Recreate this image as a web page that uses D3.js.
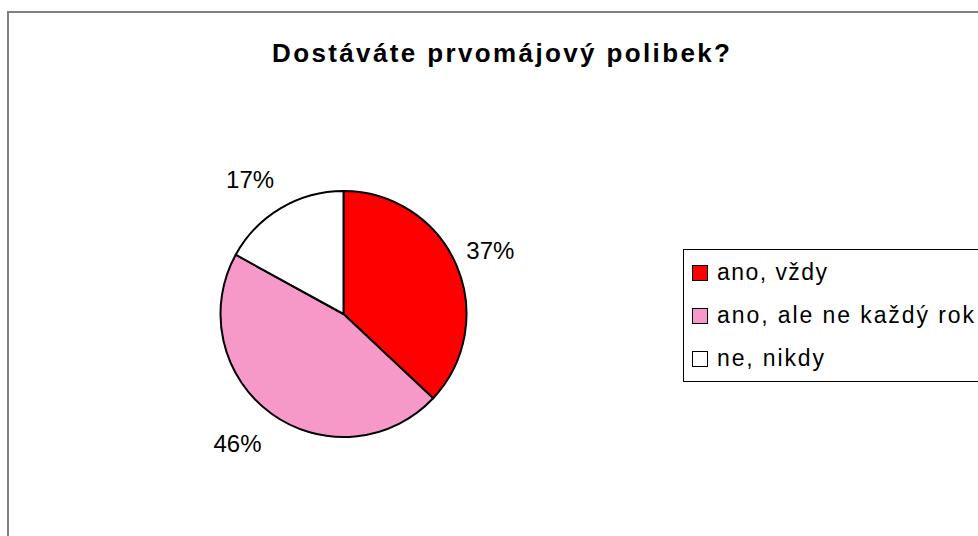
<!DOCTYPE html>
<html>
<head>
<meta charset="utf-8">
<script src="https://cdn.jsdelivr.net/npm/d3@7"></script>
<style>
  html, body { margin: 0; padding: 0; background: #fff; overflow: hidden; }
  text { font-family: "Liberation Sans", Arial, sans-serif; }
</style>
</head>
<body>
<div id="chart"></div>
<script>
const title = "Dostáváte prvomájový polibek?";
const categories = ["ano, vždy", "ano, ale ne každý rok", "ne, nikdy"];
const values = [37, 46, 17];
const colors = ["#ff0000", "#f799c8", "#ffffff"];

const width = 978, height = 536;
const cx = 343.5, cy = 314, radius = 123;

const svg = d3.select("#chart").append("svg")
  .attr("width", width)
  .attr("height", height);

// outer chart area border (runs off the right and bottom edge)
svg.append("rect")
  .attr("x", 8).attr("y", 12)
  .attr("width", width + 20).attr("height", height + 20)
  .attr("fill", "#fff")
  .attr("stroke", "#808080")
  .attr("stroke-width", 2);

svg.append("text")
  .attr("x", 501).attr("y", 62)
  .attr("text-anchor", "middle")
  .attr("font-size", 26)
  .attr("font-weight", "bold")
  .attr("textLength", 458)
  .attr("lengthAdjust", "spacing")
  .text(title);

const pie = d3.pie().sort(null).value(d => d);
const arcs = pie(values);
const arc = d3.arc().innerRadius(0).outerRadius(radius);
const labelArc = d3.arc().innerRadius(160).outerRadius(160);

const g = svg.append("g").attr("transform", `translate(${cx},${cy})`);

g.selectAll("path.slice")
  .data(arcs)
  .enter().append("path")
  .attr("class", "slice")
  .attr("d", arc)
  .attr("fill", (d, i) => colors[i])
  .attr("stroke", "#000")
  .attr("stroke-width", 2)
  .attr("stroke-linejoin", "round");

const total = d3.sum(values);
g.selectAll("text.lbl")
  .data(arcs)
  .enter().append("text")
  .attr("class", "lbl")
  .attr("transform", d => {
    const [x, y] = labelArc.centroid(d);
    // nudge left-side labels outward a bit, like the original layout
    const dx = x < 0 ? -12 : 0;
    const dy = y < 0 && x < 0 ? 3 : 0;
    return `translate(${x + dx},${y + dy})`;
  })
  .attr("dy", "0.36em")
  .attr("text-anchor", "middle")
  .attr("font-size", 24)
  .text(d => Math.round(d.data / total * 100) + "%");

// legend
const legend = svg.append("g");
legend.append("rect")
  .attr("x", 683.5).attr("y", 249.5)
  .attr("width", 320).attr("height", 132)
  .attr("fill", "#fff")
  .attr("stroke", "#000")
  .attr("stroke-width", 1);

const rowY = d3.scalePoint().domain(categories).range([265, 351]);
const textWidths = [110, 257, 107];

const rows = legend.selectAll("g.row")
  .data(categories)
  .enter().append("g")
  .attr("class", "row")
  .attr("transform", d => `translate(692,${rowY(d)})`);

rows.append("rect")
  .attr("x", 0.5).attr("y", 0.5)
  .attr("width", 15).attr("height", 15)
  .attr("fill", (d, i) => colors[i])
  .attr("stroke", "#000")
  .attr("stroke-width", 1);

rows.append("text")
  .attr("x", 25).attr("y", 15)
  .attr("font-size", 23)
  .attr("textLength", (d, i) => textWidths[i])
  .attr("lengthAdjust", "spacing")
  .text(d => d);
</script>
</body>
</html>
